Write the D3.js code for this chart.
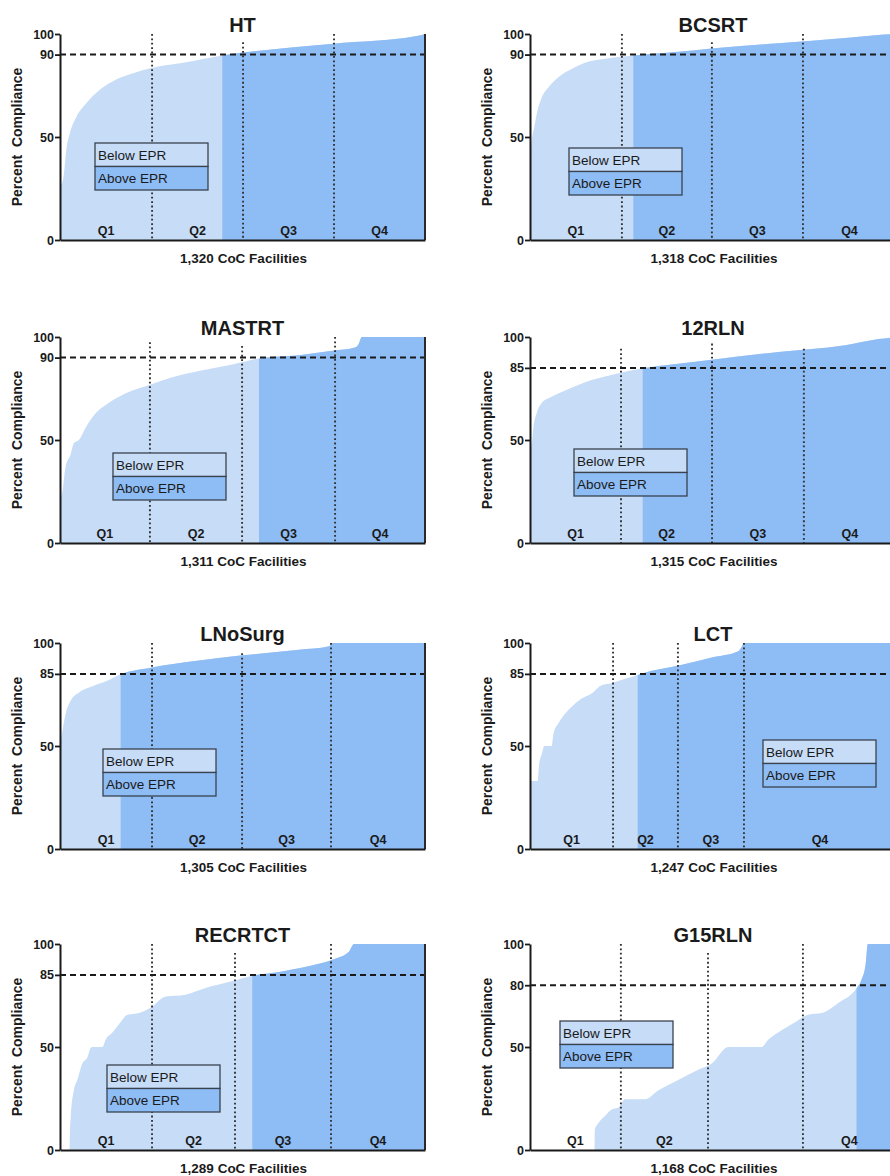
<!DOCTYPE html>
<html><head><meta charset="utf-8">
<script src="https://cdn.jsdelivr.net/npm/d3@7"></script>
<style>
body{margin:0;background:#fff;}
svg{display:block;font-family:"Liberation Sans",Arial,Helvetica,sans-serif;}
</style>
</head><body>
<svg id="chart" width="890" height="1176"></svg>
<script>
// ---------- DATA ----------
const panelNames = ["HT", "BCSRT", "MASTRT", "12RLN", "LNoSurg", "LCT", "RECRTCT", "G15RLN"];
const facilityCounts = [1320, 1318, 1311, 1315, 1305, 1247, 1289, 1168];
const eprThresholds = [90, 90, 90, 85, 85, 85, 85, 80];
const splitRanks = [587, 372, 715, 405, 217, 367, 679, 1042];
const quartileBreaks = [
  [333, 662, 991], [331, 655, 983], [323, 654, 988], [327, 654, 984],
  [329, 651, 969], [283, 504, 729], [325, 618, 957], [290, 568, 871]
];
const dottedTops = [
  [100, 96, 100], [100, 96, 100], [97.5, 95.6, 100], [94.3, 96.8, 94.3],
  [100, 95, 100], [100, 100, 100], [100, 95.6, 100], [100, 95.6, 100]
];
const quartileLabels = [
  ["Q1","Q2","Q3","Q4"], ["Q1","Q2","Q3","Q4"], ["Q1","Q2","Q3","Q4"], ["Q1","Q2","Q3","Q4"],
  ["Q1","Q2","Q3","Q4"], ["Q1","Q2","Q3","Q4"], ["Q1","Q2","Q3","Q4"], ["Q1","Q2","","Q4"]
];
const legendLabels = ["Below EPR", "Above EPR"];

// sorted facility compliance: [facility rank, percent compliance]
const curveHT = [[0,26],[12,30],[24,45],[36,52],[60,60],[96,66.5],[145,73],[205,78],[265,81],[331,83.5],[446,86],[587,89.6],[663,91],[988,95.3],[1290,99],[1320,100]];
const curveBCSRT = [[0,40],[8,50],[16,55],[24,61],[42,69],[66,74],[102,79],[150,83],[198,86],[270,88],[372,89.6],[534,91.4],[654,93],[894,95.5],[1134,98],[1254,99.5],[1318,100]];
const curveMASTRT = [[0,20],[11,27],[20,37],[38,43],[50,48.5],[68,50],[92,56],[128,63],[164,67],[212,71],[260,74],[326,77],[403,80.5],[499,83.5],[619,86.7],[715,89.6],[858,91.2],[978,93.3],[1062,95],[1074,97],[1084,100],[1311,100]];
const curve12RLN = [[0,45],[8,50],[12,56],[24,63],[42,68],[78,71],[126,74],[198,78],[293,81.5],[405,84.8],[533,87],[653,89],[892,92.7],[1132,96],[1252,99],[1315,100]];
const curveLNoSurg = [[0,50],[11,59],[20,65.5],[38,72],[68,76],[116,79],[175,82],[217,84.8],[324,88],[497,91.5],[652,94],[854,96.7],[962,98.4],[973,100],[1305,100]];
const curveLCT = [[0,33],[26,33],[31,41],[40,46],[49,50],[74,50],[80,56],[97,61],[119,65.5],[142,69],[176,73],[210,75.5],[244,79.5],[278,80.5],[324,82.6],[367,84.5],[415,86.5],[503,89],[619,93],[710,96],[721,98],[729,100],[1247,100]];
const curveRECRTCT = [[0,0],[34,0],[35,8],[38,16],[49,29],[61,34],[79,42],[97,45],[108,49.5],[114,50],[150,50],[161,53.5],[185,57],[208,61],[238,65.6],[279,66.5],[320,69],[373,74.5],[444,75.4],[514,78.6],[609,82],[679,84.6],[785,86.7],[903,90],[962,92.4],[1021,96.4],[1038,100],[1289,100]];
const curveG15RLN = [[0,0],[206,0],[207,10],[218,13],[239,16.5],[261,19.7],[282,20.5],[303,24.6],[367,24.6],[410,29],[473,34],[537,39],[580,42],[633,50],[739,50],[761,53.6],[792,57],[846,62],[888,65.7],[931,66.5],[984,71.4],[1042,78.5],[1058,82.7],[1071,90],[1078,100],[1168,100]];
const curves = [curveHT, curveBCSRT, curveMASTRT, curve12RLN, curveLNoSurg, curveLCT, curveRECRTCT, curveG15RLN];

// ---------- LAYOUT ----------
const colX = [60, 530];
const rowY = [34, 337, 643, 944];
const plotW = [365, 366];
const plotH = 206;
const legendPos = [[35,109],[39,114],[53,116],[44,112],[43,106],[233,97],[47,121],[30,77]];
const lightBlue = "#c6dcf7";
const darkBlue = "#8ebcf4";
const ink = "#1a1a1a";

const svg = d3.select("#chart");

panelNames.forEach((name, i) => {
  const col = i % 2, row = Math.floor(i / 2);
  const W = plotW[col];
  const N = facilityCounts[i];
  const thr = eprThresholds[i];
  const g = svg.append("g").attr("transform", `translate(${colX[col]},${rowY[row]})`);

  const x = d3.scaleLinear().domain([0, N]).range([0, W]);
  const y = d3.scaleLinear().domain([0, 100]).range([plotH, 0]);

  const area = d3.area().x(d => x(d[0])).y0(y(0)).y1(d => y(d[1])).curve(d3.curveMonotoneX);

  const clipId = "clip" + i;
  g.append("clipPath").attr("id", clipId)
    .append("rect").attr("x", x(splitRanks[i])).attr("y", -5)
    .attr("width", W - x(splitRanks[i]) + 5).attr("height", plotH + 10);

  g.append("path").datum(curves[i]).attr("d", area).attr("fill", lightBlue);
  g.append("path").datum(curves[i]).attr("d", area).attr("fill", darkBlue)
    .attr("clip-path", `url(#${clipId})`);

  // quartile dotted lines
  quartileBreaks[i].forEach((b, k) => {
    g.append("line")
      .attr("x1", x(b)).attr("x2", x(b))
      .attr("y1", y(dottedTops[i][k])).attr("y2", y(0))
      .attr("stroke", "#333").attr("stroke-width", 1.9)
      .attr("stroke-dasharray", "1.8,2.6");
  });

  // EPR dashed line
  g.append("line")
    .attr("x1", 0).attr("x2", W)
    .attr("y1", y(thr)).attr("y2", y(thr))
    .attr("stroke", ink).attr("stroke-width", 2)
    .attr("stroke-dasharray", "6,4");

  // right edge line
  g.append("line")
    .attr("x1", x(N)).attr("x2", x(N))
    .attr("y1", y(100)).attr("y2", y(0))
    .attr("stroke", "#2a2a2a").attr("stroke-width", 2);

  // quartile labels
  const bounds = [0, ...quartileBreaks[i], N];
  quartileLabels[i].forEach((lab, k) => {
    if (!lab) return;
    g.append("text")
      .attr("x", x((bounds[k] + bounds[k + 1]) / 2))
      .attr("y", plotH - 5)
      .attr("text-anchor", "middle")
      .attr("font-size", 12.5).attr("font-weight", "bold").attr("fill", ink)
      .text(lab);
  });

  // axes
  const yAxis = d3.axisLeft(y).tickValues([0, 50, thr, 100]).tickSize(5).tickSizeOuter(0).tickFormat(d3.format("d"));
  const ya = g.append("g").call(yAxis);
  ya.select(".domain").attr("stroke", ink).attr("stroke-width", 2);
  ya.selectAll(".tick line").attr("stroke", ink).attr("stroke-width", 1.8);
  ya.selectAll(".tick text").attr("font-size", 12.5).attr("font-weight", "bold")
    .attr("fill", ink).attr("x", -6).attr("font-family", "Liberation Sans, Arial, sans-serif");

  const xAxis = d3.axisBottom(x).tickValues([]).tickSizeOuter(0);
  const xa = g.append("g").attr("transform", `translate(0,${plotH})`).call(xAxis);
  xa.select(".domain").attr("stroke", ink).attr("stroke-width", 2);

  // titles / labels
  g.append("text")
    .attr("x", W / 2).attr("y", -2)
    .attr("text-anchor", "middle")
    .attr("font-size", 20).attr("font-weight", "bold").attr("fill", ink)
    .text(name);

  g.append("text")
    .attr("x", W / 2 + 1).attr("y", plotH + 23)
    .attr("text-anchor", "middle")
    .attr("font-size", 13.5).attr("font-weight", "bold").attr("fill", ink)
    .text(`${d3.format(",")(N)} CoC Facilities`);

  g.append("text")
    .attr("transform", `translate(-38,${plotH / 2}) rotate(-90)`)
    .attr("text-anchor", "middle")
    .attr("font-size", 14).attr("font-weight", "bold").attr("fill", ink)
    .attr("word-spacing", 4)
    .text("Percent Compliance");

  // legend
  const lg = g.append("g").attr("transform", `translate(${legendPos[i][0]},${legendPos[i][1]})`);
  const rowH = 23.5, lw = 113;
  legendLabels.forEach((lab, k) => {
    lg.append("rect").attr("x", 0).attr("y", k * rowH).attr("width", lw).attr("height", rowH)
      .attr("fill", k === 0 ? lightBlue : darkBlue)
      .attr("stroke", "#3a4250").attr("stroke-width", 1.3);
    lg.append("text").attr("x", 3).attr("y", k * rowH + 16.5)
      .attr("font-size", 13.5).attr("fill", ink).text(lab);
  });
});
</script>
</body></html>
